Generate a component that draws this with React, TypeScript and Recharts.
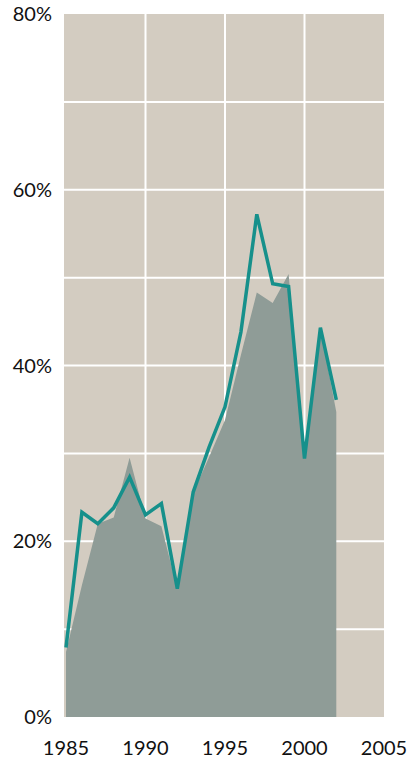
import React from 'react';
import { Area, CartesianGrid, ComposedChart, Line, XAxis, YAxis } from 'recharts';

const YEARS = [1985, 1986, 1987, 1988, 1989, 1990, 1991, 1992, 1993, 1994, 1995, 1996, 1997, 1998, 1999, 2000, 2001, 2002];
const AREA_VALUES = [7.4, 15, 22, 22.7, 29.5, 22.6, 21.7, 14.6, 25.5, 29.6, 33.8, 41.2, 48.3, 47.1, 50.4, 29.4, 44.3, 34.7];
const LINE_VALUES = [7.9, 23.3, 22.0, 23.8, 27.3, 23.0, 24.3, 14.6, 25.6, 30.7, 35.3, 43.8, 57.2, 49.3, 49.0, 29.4, 44.3, 36.1];

const X_TICKS = [1985, 1990, 1995, 2000, 2005];
const Y_TICKS = [0, 20, 40, 60, 80];
const GRID_X = [1990, 1995, 2000];
const GRID_Y = [10, 20, 30, 40, 50, 60, 70];

const BG = '#d3ccc1';
const AREA_COLOR = '#8f9c97';
const LINE_COLOR = '#16908b';

const data = YEARS.map((year, i) => ({
  year,
  area: AREA_VALUES[i],
  line: LINE_VALUES[i],
}));

const tickStyle = { fontFamily: 'Lato, sans-serif', fontSize: 20, fill: '#111' };

const App: React.FC = () => {
  return (
    <div style={{ position: 'absolute', top: 0, left: 0, width: 407, height: 759 }}>
      <ComposedChart width={407} height={759} data={data} margin={{ top: 14, right: 23, left: 0, bottom: 0 }}>
        <CartesianGrid
          fill={BG}
          fillOpacity={1}
          stroke='#ffffff'
          strokeWidth={2}
          horizontalValues={GRID_Y}
          verticalValues={GRID_X}
        />
        <XAxis
          dataKey='year'
          type='number'
          domain={[1985, 2005]}
          ticks={X_TICKS}
          padding={{ left: 2, right: 0 }}
          axisLine={false}
          tickLine={false}
          tickSize={0}
          tickMargin={24}
          height={42}
          interval={0}
          tick={tickStyle}
        />
        <YAxis
          type='number'
          domain={[0, 80]}
          ticks={Y_TICKS}
          tickFormatter={(v: number) => `${v}%`}
          axisLine={false}
          tickLine={false}
          tickSize={0}
          tickMargin={12}
          width={64}
          interval={0}
          tick={tickStyle}
        />
        <Area
          type='linear'
          dataKey='area'
          fill={AREA_COLOR}
          fillOpacity={1}
          stroke='none'
          isAnimationActive={false}
        />
        <Line
          type='linear'
          dataKey='line'
          stroke={LINE_COLOR}
          strokeWidth={3.5}
          dot={false}
          isAnimationActive={false}
        />
      </ComposedChart>
    </div>
  );
};

export default App;
